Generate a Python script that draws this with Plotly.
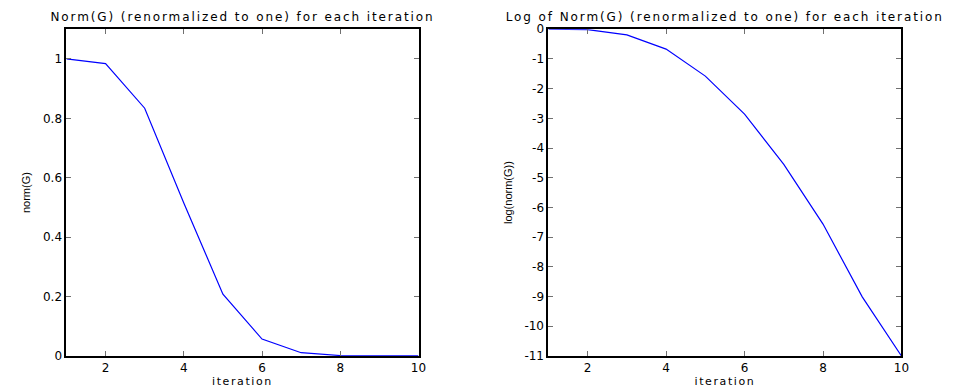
import plotly.graph_objects as go

# Iteration index and the measured normalised gradient norm per iteration
iterations = [1, 2, 3, 4, 5, 6, 7, 8, 9, 10]
norm_g = [1.0, 0.984, 0.834, 0.515, 0.208, 0.057, 0.011, 0.0014, 0.00012, 0.000017]
log_norm_g = [0.0, -0.016, -0.19, -0.67, -1.58, -2.86, -4.55, -6.56, -9.01, -11.0]

# Tick labels
x_ticks = [2, 4, 6, 8, 10]
left_y_ticks = [0, 0.2, 0.4, 0.6, 0.8, 1]
left_y_labels = ["0", "0.2", "0.4", "0.6", "0.8", "1"]
right_y_ticks = [0, -1, -2, -3, -4, -5, -6, -7, -8, -9, -10, -11]
right_y_labels = ["0", "-1", "-2", "-3", "-4", "-5", "-6", "-7", "-8", "-9", "-10", "-11"]

W, H = 966, 389
FONT = "DejaVu Sans"
NARROW = "Liberation Sans"

fig = go.Figure()
fig.add_trace(go.Scatter(x=iterations, y=norm_g, mode="lines",
                         line=dict(color="#0000ff", width=1.2),
                         xaxis="x", yaxis="y", showlegend=False))
fig.add_trace(go.Scatter(x=iterations, y=log_norm_g, mode="lines",
                         line=dict(color="#0000ff", width=1.2),
                         xaxis="x2", yaxis="y2", showlegend=False))

axis_common = dict(
    showgrid=False, zeroline=False, showline=True, linecolor="black",
    linewidth=2, mirror="ticks", ticks="inside", ticklen=5,
    tickcolor="#707070", tickwidth=1,
    tickfont=dict(family=FONT, size=12, color="black"),
)

ydom = [1 - 362 / H, 1 - 23 / H]

fig.update_layout(
    width=W, height=H,
    margin=dict(l=0, r=0, t=0, b=0),
    paper_bgcolor="white", plot_bgcolor="white",
    xaxis=dict(domain=[67 / W, 422 / W], range=[1, 10], tickvals=x_ticks,
               title=dict(text="iteration", font=dict(family=FONT, size=11, color="black"), standoff=0),
               anchor="y", **axis_common),
    yaxis=dict(domain=ydom, range=[0, 1.1], tickvals=left_y_ticks, ticktext=left_y_labels,
               title=dict(text="norm(G)", font=dict(family=NARROW, size=11, color="black"), standoff=10),
               anchor="x", **axis_common),
    xaxis2=dict(domain=[553 / W, 909 / W], range=[1, 10], tickvals=x_ticks,
                title=dict(text="iteration", font=dict(family=FONT, size=11, color="black"), standoff=0),
                anchor="y2", **axis_common),
    yaxis2=dict(domain=ydom, range=[-11, 0], tickvals=right_y_ticks, ticktext=right_y_labels,
                title=dict(text="log(norm(G))", font=dict(family=NARROW, size=11, color="black"), standoff=10),
                anchor="x2", **axis_common),
    annotations=[
        dict(text="Norm(G) (renormalized to one) for each iteration",
             x=(67 + 422) / 2 / W, y=1 - 10 / H, xref="paper", yref="paper",
             xanchor="center", yanchor="middle", showarrow=False,
             font=dict(family=FONT, size=12, color="black")),
        dict(text="Log of Norm(G) (renormalized to one) for each iteration",
             x=(553 + 909) / 2 / W, y=1 - 10 / H, xref="paper", yref="paper",
             xanchor="center", yanchor="middle", showarrow=False,
             font=dict(family=FONT, size=12, color="black")),
    ],
)

# Widen the lettering of the plot titles and x-axis titles
widen_text = """
var gd = document.getElementById('{plot_id}');
function widen() {
    gd.querySelectorAll('text').forEach(function (t) {
        var cls = t.getAttribute('class') || '';
        if (cls.indexOf('annotation-text') >= 0) {
            t.style.letterSpacing = '1.9px';
        } else if (cls.indexOf('xtitle') >= 0 || cls.indexOf('x2title') >= 0) {
            t.style.letterSpacing = '1.6px';
        }
    });
}
widen();
if (gd.on) { gd.on('plotly_afterplot', widen); }
setTimeout(widen, 50);
"""

fig.write_html("out.html", post_script=widen_text)
